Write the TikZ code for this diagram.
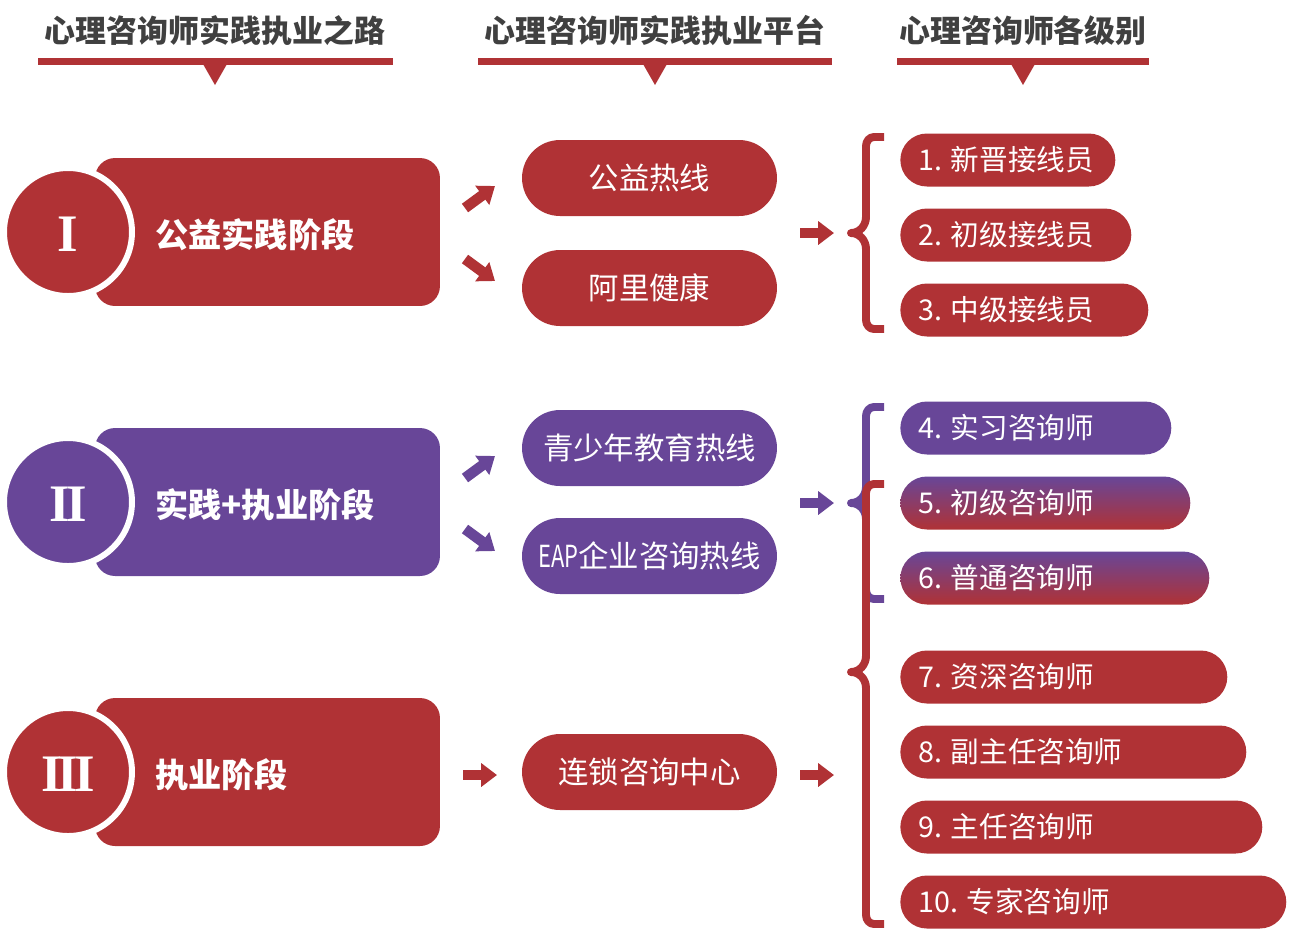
\documentclass[tikz,border=0pt]{standalone}
\usepackage{fontspec}
\usepackage{graphicx}
\setmainfont{Noto Sans CJK SC}
\newfontfamily\romanf{Liberation Serif}
\usetikzlibrary{arrows.meta}
\definecolor{myred}{HTML}{B03235}
\definecolor{mypur}{HTML}{684698}
\definecolor{hdr}{HTML}{404040}
\newcommand\mybrace[5]{% colour, top, tip, bottom, name
  \draw[bracestyle,#1] (884,{#2+4}) -- (874,{#2+4}) to[out=180,in=90] (866,{#2+13})
    -- (866,{#3-16}) to[out=-90,in=0] (851,#3) to[out=0,in=90] (866,{#3+16})
    -- (866,{#4-13}) to[out=-90,in=180] (874,{#4-4}) -- (884,{#4-4});
  \coordinate (#5) at (851,#3);}
\begin{document}
\begin{tikzpicture}[x=0.02cm,y=-0.02cm,
  hdrtext/.style={font=\fontsize{17.6}{20}\selectfont\bfseries, text=hdr, inner sep=0},
  hbar/.style={line width=4pt, draw=myred},
  stagebox/.style={rounded corners=0.4cm, minimum width=6.9cm, minimum height=2.96cm, inner sep=0},
  stagecirc/.style={circle, draw=white, line width=3.4pt, minimum size=2.56cm, inner sep=0},
  stagetext/.style={font=\fontsize{18.9}{22}\selectfont\bfseries, text=white, anchor=west, inner sep=0},
  roman/.style={font=\romanf\bfseries\fontsize{30}{30}\selectfont, text=white, inner sep=0},
  midpill/.style={rounded corners=0.76cm, minimum width=5.1cm, minimum height=1.52cm, inner sep=0, text=white, font=\fontsize{17.3}{20}\selectfont},
  lvl/.style={rounded corners=0.53cm, minimum height=1.06cm, anchor=west, inner sep=0},
  lvltext/.style={font=\fontsize{16.3}{19}\selectfont, text=white, anchor=west, inner sep=0},
  barrow/.style={line width=6pt, -{Triangle[width=13pt,length=9pt]}},
  bracestyle/.style={line width=4.5pt, line join=round}
]
\useasboundingbox (0,0) rectangle (1294,948);

% headers
\foreach \n/\x/\a/\b/\t in {h1/215/38/393/心理咨询师实践执业之路, h2/655/478/832/心理咨询师实践执业平台, h3/1023/897/1149/心理咨询师各级别}{
  \node[hdrtext] (\n) at (\x,31) {\t};
  \draw[hbar] (\a,61.5) -- (\b,61.5);
  \fill[myred] ({\x-12},64) -- ({\x+12},64) -- (\x,85) -- cycle;
}

% stages
\foreach \n/\y/\c/\r/\t in {s1/232/myred/I/公益实践阶段, s2/502/mypur/I\kern-2.2pt I/实践+执业阶段, s3/772/myred/I\kern-2.2pt I\kern-2.2pt I/执业阶段}{
  \node[stagebox, fill=\c] (\n) at (267.5,\y) {};
  \node[stagecirc, fill=\c] (\n c) at (68,\y) {};
  \node[roman] (\n r) at (68,{\y+2}) {\r};
  \node[stagetext] (\n t) at (155,{\y+3}) {\t};
}

% middle pills
\node[midpill, fill=myred] (m1) at (649.5,178) {\raisebox{-1pt}{公益热线}};
\node[midpill, fill=myred] (m2) at (649.5,288) {\raisebox{-1pt}{阿里健康}};
\node[midpill, fill=mypur] (m3) at (649.5,448) {\raisebox{-1pt}{青少年教育热线}};
\node[midpill, fill=mypur] (m4) at (649.5,556) {\raisebox{-1pt}{\scalebox{0.72}[1]{EAP}企业咨询热线}};
\node[midpill, fill=myred] (m5) at (649.5,772) {\raisebox{-1pt}{连锁咨询中心}};

% arrows stage -> platform
\coordinate (a1s) at (465,208); \coordinate (a1e) at (495,186);
\coordinate (a2s) at (465,259); \coordinate (a2e) at (495,281);
\coordinate (a3s) at (465,478); \coordinate (a3e) at (495,456);
\coordinate (a4s) at (465,529); \coordinate (a4e) at (495,551);
\coordinate (a5s) at (463,775); \coordinate (a5e) at (497,775);
\draw[barrow, myred] (a1s) -- (a1e);
\draw[barrow, myred] (a2s) -- (a2e);
\draw[barrow, mypur] (a3s) -- (a3e);
\draw[barrow, mypur] (a4s) -- (a4e);
\draw[barrow, myred] (a5s) -- (a5e);

% arrows platform -> levels
\coordinate (b1s) at (800,233); \coordinate (b1e) at (834,233);
\coordinate (b2s) at (800,503); \coordinate (b2e) at (834,503);
\coordinate (b3s) at (800,775); \coordinate (b3e) at (834,775);
\draw[barrow, myred] (b1s) -- (b1e);
\draw[barrow, mypur] (b2s) -- (b2e);
\draw[barrow, myred] (b3s) -- (b3e);

% braces
\mybrace{myred}{133}{233}{333}{br1}
\mybrace{mypur}{403}{503}{603}{br2}
\mybrace{myred}{480}{672}{928}{br3}

% level pills
\foreach \n/\y/\w/\t in {l1/160/4.30/1. 新晋接线员, l2/235/4.62/2. 初级接线员, l3/310/4.96/3. 中级接线员}{
  \node[lvl, fill=myred, minimum width=\w cm] (\n) at (900,\y) {};
  \node[lvltext] (\n t) at (918,\y) {\t};
}
\node[lvl, fill=mypur, minimum width=5.42cm] (l4) at (900,428) {};
\node[lvltext] (l4t) at (918,428) {4. 实习咨询师};
\node[lvl, top color=mypur, bottom color=myred, minimum width=5.80cm] (l5) at (900,503) {};
\node[lvltext] (l5t) at (918,503) {5. 初级咨询师};
\node[lvl, top color=mypur, bottom color=myred, minimum width=6.18cm] (l6) at (900,578) {};
\node[lvltext] (l6t) at (918,578) {6. 普通咨询师};
\foreach \n/\y/\w/\t in {l7/677/6.54/7. 资深咨询师, l8/752/6.92/8. 副主任咨询师, l9/827/7.24/9. 主任咨询师, l10/902/7.72/10. 专家咨询师}{
  \node[lvl, fill=myred, minimum width=\w cm] (\n) at (900,\y) {};
  \node[lvltext] (\n t) at (918,\y) {\t};
}
\end{tikzpicture}
\end{document}
